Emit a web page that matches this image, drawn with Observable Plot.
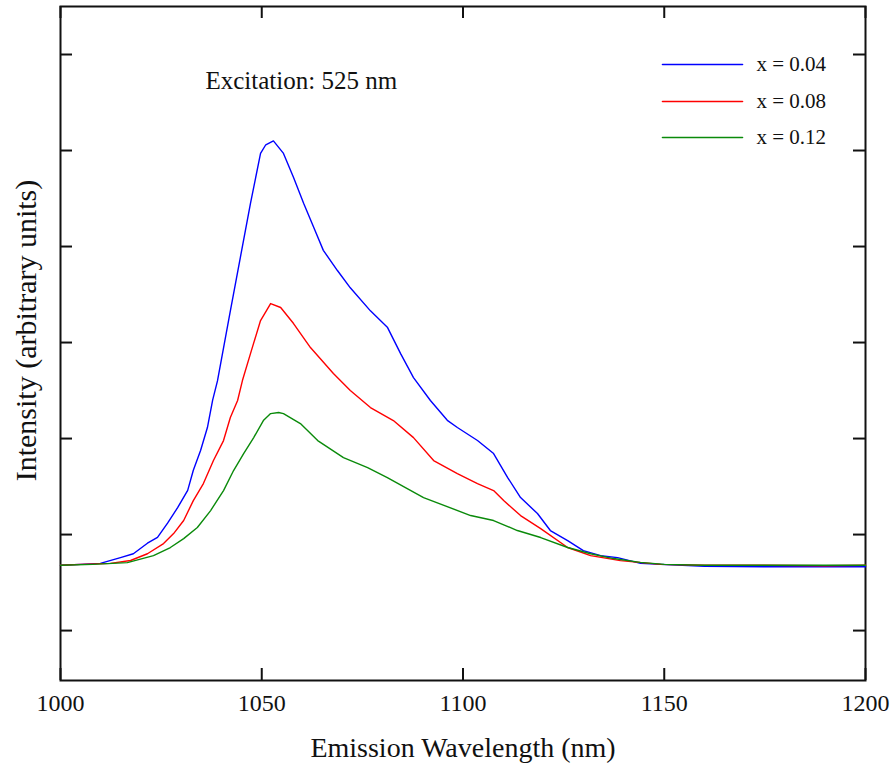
<!DOCTYPE html>
<html>
<head>
<meta charset="utf-8">
<script src="https://cdn.jsdelivr.net/npm/d3@7"></script>
<script src="https://cdn.jsdelivr.net/npm/@observablehq/plot@0.6"></script>
<style>
  html, body { margin: 0; padding: 0; background: #fff; }
</style>
</head>
<body>
<div id="chart"></div>
<script>
// ---- Data ----
const wavelengthTicks = [1000, 1050, 1100, 1150, 1200];
const intensityTicks = [0, 1, 2, 3, 4, 5, 6];
const seriesNames = ["x = 0.04", "x = 0.08", "x = 0.12"];
const seriesColors = ["#0000ff", "#ff0000", "#0a8a0a"];
const annotationText = "Excitation: 525 nm";
const xTitle = "Emission Wavelength (nm)";
const yTitle = "Intensity (arbitrary units)";

const blueWavelength = [1000, 1005, 1009.9, 1014.9, 1018.1, 1021.6, 1024.1, 1026.6, 1029.1, 1031.6, 1033.0, 1034.8, 1036.5, 1037.8, 1039.0, 1042.2, 1044.7, 1047.2, 1049.7, 1051.0, 1052.9, 1055.4, 1057.9, 1060.4, 1062.9, 1065.3, 1068.8, 1072.0, 1077.0, 1081.2, 1084.5, 1087.7, 1091.9, 1096.1, 1098.6, 1103.6, 1107.6, 1111.1, 1114.3, 1118.5, 1121.7, 1126.0, 1129.9, 1134.2, 1138.4, 1144.1, 1149.1, 1160, 1175, 1190, 1200];
const blueIntensity  = [0.68, 0.69, 0.70, 0.76, 0.80, 0.91, 0.97, 1.12, 1.28, 1.46, 1.67, 1.875, 2.115, 2.40, 2.60, 3.33, 3.89, 4.45, 4.97, 5.06, 5.10, 4.97, 4.72, 4.45, 4.20, 3.96, 3.75, 3.57, 3.33, 3.16, 2.885, 2.635, 2.396, 2.19, 2.115, 1.98, 1.844, 1.594, 1.385, 1.219, 1.042, 0.9375, 0.833, 0.78, 0.76, 0.70, 0.69, 0.67, 0.665, 0.665, 0.665];

const redWavelength = [1000, 1005, 1012.4, 1017.4, 1021.6, 1025.6, 1028.1, 1030.6, 1033.0, 1035.5, 1038.0, 1040.5, 1042.2, 1044.0, 1045.2, 1047.2, 1049.7, 1052.2, 1054.7, 1057.9, 1062.1, 1067.8, 1072.0, 1077.0, 1082.7, 1087.7, 1092.7, 1098.6, 1103.6, 1107.6, 1110.1, 1114.3, 1119.3, 1126.0, 1131.7, 1139.1, 1149.1, 1160, 1175, 1190, 1200];
const redIntensity  = [0.68, 0.69, 0.70, 0.73, 0.80, 0.906, 1.01, 1.146, 1.354, 1.531, 1.771, 1.979, 2.219, 2.396, 2.604, 2.885, 3.229, 3.406, 3.365, 3.198, 2.948, 2.677, 2.5, 2.323, 2.1875, 2.01, 1.771, 1.635, 1.531, 1.458, 1.354, 1.198, 1.0625, 0.865, 0.781, 0.729, 0.69, 0.68, 0.68, 0.675, 0.68];

const greenWavelength = [1000, 1008, 1016.6, 1023.1, 1027.3, 1030.6, 1034.0, 1037.3, 1040.5, 1043.0, 1045.5, 1048.0, 1050.4, 1052.2, 1054.2, 1055.4, 1059.6, 1063.9, 1070.3, 1076.3, 1081.2, 1090.2, 1101.9, 1107.6, 1113.5, 1119.3, 1126.0, 1131.7, 1137.4, 1144, 1150, 1160, 1200];
const greenIntensity  = [0.68, 0.69, 0.708, 0.781, 0.865, 0.958, 1.073, 1.25, 1.458, 1.667, 1.844, 2.01, 2.1875, 2.26, 2.271, 2.26, 2.156, 1.979, 1.802, 1.698, 1.594, 1.385, 1.198, 1.146, 1.042, 0.969, 0.865, 0.80, 0.75, 0.71, 0.69, 0.68, 0.68];

// ---- Build table ----
const seriesX = [blueWavelength, redWavelength, greenWavelength];
const seriesY = [blueIntensity, redIntensity, greenIntensity];
const rows = [];
seriesNames.forEach((name, i) => {
  seriesX[i].forEach((w, j) => rows.push({series: name, wl: w, v: seriesY[i][j]}));
});

const W = 891, H = 769;
const mL = 60, mR = 26, mT = 6, mB = 89;
const frameW = W - mL - mR, frameH = H - mT - mB;
const tickLen = 12;
const font = "Liberation Serif, Times New Roman, serif";
const legendRowDy = [58, 95, 131];

const marks = [
  Plot.frame({stroke: "#111", strokeWidth: 2}),
  // ticks (inward, mirrored)
  Plot.ruleX(wavelengthTicks, {x: d => d, insetTop: frameH - tickLen, stroke: "#111", strokeWidth: 2}),
  Plot.ruleX(wavelengthTicks, {x: d => d, insetBottom: frameH - tickLen, stroke: "#111", strokeWidth: 2}),
  Plot.ruleY(intensityTicks, {y: d => d, insetRight: frameW - tickLen, stroke: "#111", strokeWidth: 2}),
  Plot.ruleY(intensityTicks, {y: d => d, insetLeft: frameW - tickLen, stroke: "#111", strokeWidth: 2}),
  Plot.axisX(wavelengthTicks, {tickSize: 0, tickPadding: 13, fontSize: 24, tickFormat: d => String(d), label: null}),
  Plot.line(rows, {x: "wl", y: "v", z: "series", stroke: "series", strokeWidth: 1.4, curve: "linear"}),
  Plot.text([annotationText], {frameAnchor: "top-left", dx: 145, dy: 74, text: d => d, textAnchor: "start", lineAnchor: "middle", fontSize: 25, fill: "#111"}),
  Plot.text([xTitle], {frameAnchor: "bottom", dy: 68, text: d => d, textAnchor: "middle", lineAnchor: "middle", fontSize: 28, fill: "#111"}),
  Plot.text([yTitle], {frameAnchor: "left", dx: -34, dy: -13, rotate: -90, text: d => d, textAnchor: "middle", lineAnchor: "middle", fontSize: 30, fill: "#111"})
];

seriesNames.forEach((name, i) => {
  marks.push(Plot.vector([name], {
    frameAnchor: "top-right",
    dx: -203, dy: legendRowDy[i],
    length: 80, rotate: 90, anchor: "start",
    stroke: seriesColors[i], strokeWidth: 1.6,
    shape: {draw(context, l) { context.moveTo(0, 0); context.lineTo(0, -l); }}
  }));
  marks.push(Plot.text([name], {
    frameAnchor: "top-right",
    dx: -109, dy: legendRowDy[i],
    text: d => d, textAnchor: "start", lineAnchor: "middle", fontSize: 21, fill: "#111"
  }));
});

const chart = Plot.plot({
  width: W,
  height: H,
  marginLeft: mL, marginRight: mR, marginTop: mT, marginBottom: mB,
  style: {fontFamily: font, background: "#fff", color: "#111"},
  x: {domain: [1000, 1200], axis: null},
  y: {domain: [-0.52, 6.5], axis: null},
  color: {domain: seriesNames, range: seriesColors},
  marks
});
document.getElementById("chart").appendChild(chart);
</script>
</body>
</html>
